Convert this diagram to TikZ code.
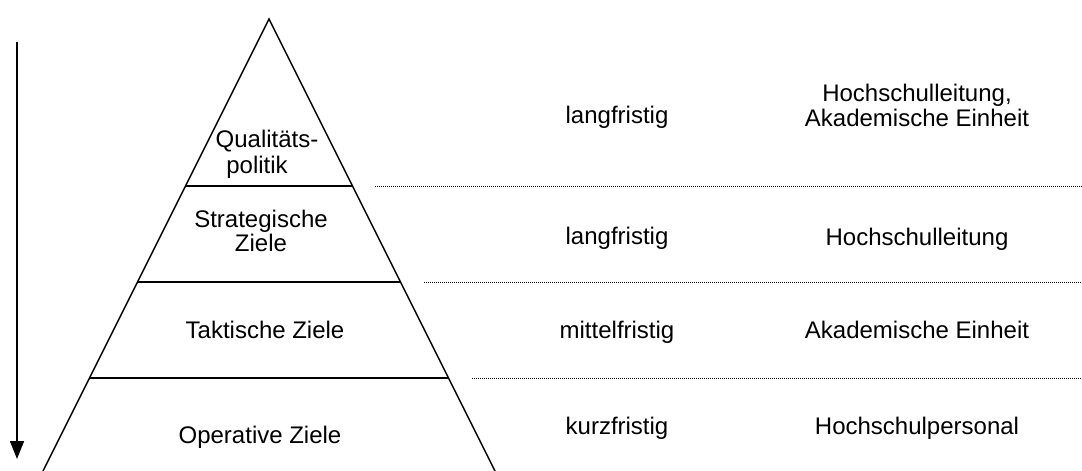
\documentclass[tikz,border=0pt]{standalone}
\usepackage{fontspec}
\setmainfont{Liberation Sans}
\usetikzlibrary{arrows.meta,calc}

\tikzset{
  edge/.style={line width=1.5pt, line join=miter},
  band/.style={line width=1.7pt},
  sep/.style={line width=1pt, dash pattern=on 1pt off 1pt},
  lbl/.style={anchor=base, inner sep=0pt, font=\fontsize{24}{25}\selectfont},
  flow/.style={line width=1.5pt, -{Triangle[length=18pt,width=14pt]}}
}

\begin{document}
\begin{tikzpicture}[x=1pt, y=-1pt]
  \useasboundingbox (0,0) rectangle (1082,471);

  % pyramid outline
  \coordinate (apex) at (269,19);
  \coordinate (bl) at (43,471);
  \coordinate (br) at (495,471);
  \draw[edge] (bl) -- (apex) -- (br);

  % level boundaries inside the pyramid
  \foreach \f/\n in {0.3695/1, 0.5819/2, 0.7942/3}{
    \coordinate (l\n) at ($(apex)!\f!(bl)$);
    \coordinate (r\n) at ($(apex)!\f!(br)$);
    \draw[band] (l\n) -- (r\n);
  }

  % dotted row separators
  \coordinate (s1a) at (375,186); \coordinate (s1b) at (1082,186);
  \coordinate (s2a) at (424,282); \coordinate (s2b) at (1082,282);
  \coordinate (s3a) at (472,378); \coordinate (s3b) at (1082,378);
  \draw[sep] (s1a) -- (s1b);
  \draw[sep] (s2a) -- (s2b);
  \draw[sep] (s3a) -- (s3b);

  % top-down arrow
  \coordinate (atop) at (17,42);
  \coordinate (abot) at (17,459);
  \draw[flow] (atop) -- (abot);

  % pyramid levels
  \node[lbl] (q1) at (267,147) {Qualitäts-};
  \node[lbl] (q2) at (257,173) {politik};
  \node[lbl] (s1) at (261,227) {Strategische};
  \node[lbl] (s2) at (261,251) {Ziele};
  \node[lbl] (t)  at (265,338) {Taktische Ziele};
  \node[lbl] (o)  at (260,443) {Operative Ziele};

  % time horizon
  \node[lbl] (h1) at (617,123) {langfristig};
  \node[lbl] (h2) at (617,244) {langfristig};
  \node[lbl] (h3) at (617,338) {mittelfristig};
  \node[lbl] (h4) at (617,434) {kurzfristig};

  % responsible parties
  \node[lbl] (p1a) at (917,101) {Hochschulleitung,};
  \node[lbl] (p1b) at (917,126) {Akademische Einheit};
  \node[lbl] (p2)  at (917,245) {Hochschulleitung};
  \node[lbl] (p3)  at (917,338) {Akademische Einheit};
  \node[lbl] (p4)  at (917,434) {Hochschulpersonal};
\end{tikzpicture}
\end{document}
